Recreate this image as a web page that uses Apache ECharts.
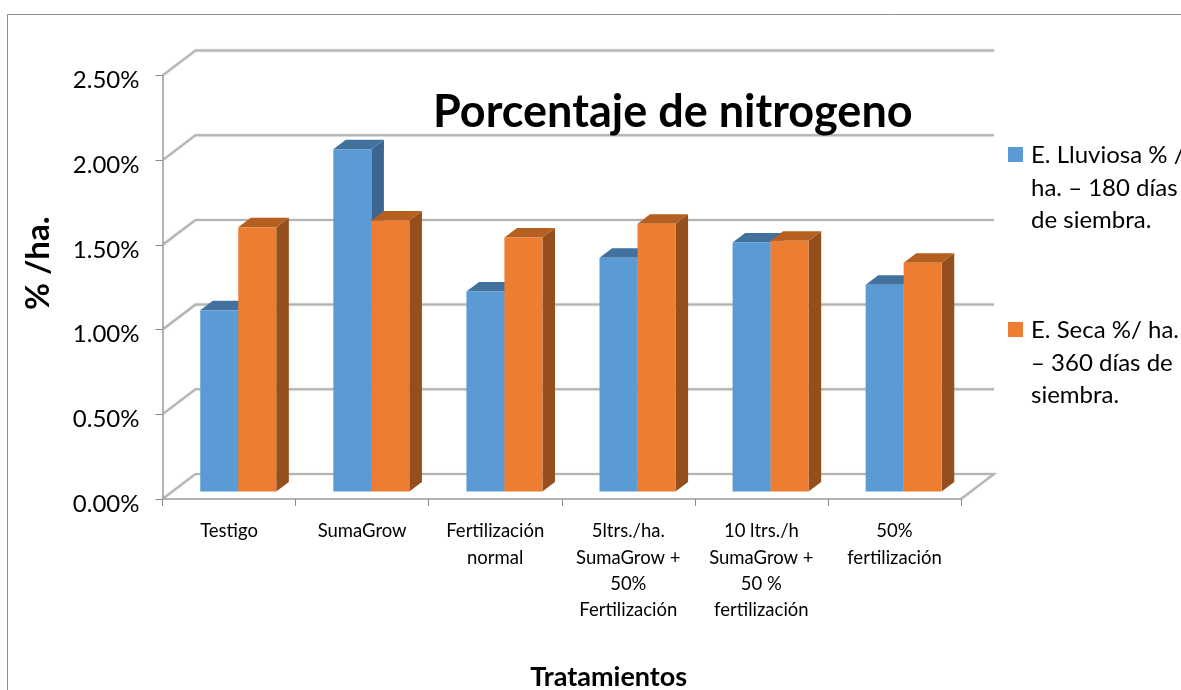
<!DOCTYPE html>
<html><head><meta charset="utf-8">
<style>html,body{margin:0;padding:0;background:#fff;overflow:hidden}#c{width:1181px;height:690px}</style>
<script src="https://cdn.jsdelivr.net/npm/echarts@6/dist/echarts.min.js"></script>
</head><body><div id="c"></div>
<script>
const categories = ['Testigo','SumaGrow','Fertilización\nnormal','5ltrs./ha.\nSumaGrow +\n50%\nFertilización','10 ltrs./h\nSumaGrow +\n50 %\nfertilización','50%\nfertilización'];
const lluviosa = [0.0107,0.0202,0.0118,0.0138,0.0147,0.0122];
const seca = [0.0156,0.0160,0.0150,0.0158,0.0148,0.0135];
const yTicks = [0,0.005,0.01,0.015,0.02,0.025];
const lluviosaName = 'E. Lluviosa % /\nha. – 180 días\nde siembra.';
const secaName = 'E. Seca %/ ha.\n– 360 días de\nsiembra.';

const FONT = 'Lato, "Open Sans", sans-serif';
// oblique projection constants
const WALL_DX = 33, WALL_DY = 25;
const BAR_W = 38, BAR_DX = 9.2, BAR_DY = 7.5, DEPTH_DX = 12.6, DEPTH_DY = 9.5;
const LEG_ICON = 'path://M0 0L0 0Z M0 8H15V23H0Z M0 98L0 98Z';

function wallItem(params, api){
  const cs = params.coordSys;
  const v = api.value(1);
  const y = api.coord([0, v])[1];
  const x0 = cs.x, x1 = cs.x + cs.width;
  const st = {stroke:'#b4b4b4', lineWidth:2, fill:null, shadowBlur:1.5, shadowColor:'rgba(0,0,0,0.25)'};
  const pts = [[x0,y],[x0+WALL_DX,y-WALL_DY],[x1+WALL_DX,y-WALL_DY]];
  if(v === 0) pts.push([x1,y]);
  return {type:'polyline', shape:{points:pts}, style:st, silent:true};
}
function barItem(side, top, sideC){
  return function(params, api){
    const idx = api.value(0), val = api.value(1);
    const p = api.coord([idx, val]), b = api.coord([idx, 0]);
    const cx = p[0] + BAR_DX;
    const l = side === 0 ? cx - BAR_W : cx, r = l + BAR_W;
    const ty = p[1] - BAR_DY, by = b[1] - BAR_DY;
    const color = api.visual('color');
    return {type:'group', children:[
      {type:'polygon', shape:{points:[[r,ty],[r+DEPTH_DX,ty-DEPTH_DY],[r+DEPTH_DX,by-DEPTH_DY],[r,by]]}, style:{fill:sideC}},
      {type:'polygon', shape:{points:[[l,ty],[l+DEPTH_DX,ty-DEPTH_DY],[r+DEPTH_DX,ty-DEPTH_DY],[r,ty]]}, style:{fill:top}},
      {type:'rect', shape:{x:l,y:ty,width:BAR_W,height:by-ty}, style:{fill:color}}
    ]};
  };
}
const chart = echarts.init(document.getElementById('c'), null, {renderer:'canvas'});
chart.setOption({
  animation:false,
  backgroundColor:'#fff',
  title:{text:'Porcentaje de nitrogeno', left:428, top:85,
    textStyle:{fontFamily:FONT, fontSize:45, fontWeight:'bold', color:'#000'}},
  legend:{
    data:[{name:lluviosaName, icon:LEG_ICON},{name:secaName, icon:LEG_ICON}],
    orient:'vertical', left:1008, top:139, itemWidth:15, itemHeight:98, itemGap:77, padding:0,
    selectedMode:false,
    textStyle:{fontFamily:FONT, fontSize:24, color:'#000', lineHeight:32.5, padding:[0,0,0,3]}
  },
  grid:{left:162.5, right:220, top:75.5, bottom:191, containLabel:false, outerBoundsMode:'none'},
  graphic:[{type:'rect', silent:true, z:-1, shape:{x:7.5,y:14.5,width:1300,height:800}, style:{fill:null, stroke:'#8c8c8c', lineWidth:1}}],
  xAxis:{type:'category', data:categories, boundaryGap:true,
    axisLine:{lineStyle:{color:'#b4b4b4', width:2}},
    axisTick:{show:true, alignWithLabel:false, length:7, lineStyle:{color:'#8c8c8c', width:1}},
    axisLabel:{interval:0, fontFamily:FONT, fontSize:18.5, color:'#000', lineHeight:26.4, margin:19},
    name:'Tratamientos', nameLocation:'middle', nameGap:165,
    nameTextStyle:{fontFamily:FONT, fontSize:27, fontWeight:'bold', color:'#000', padding:[0,0,0,94]},
    splitLine:{show:false}},
  yAxis:{type:'value', min:0, max:0.025, interval:0.005,
    axisLine:{show:true, lineStyle:{color:'#b4b4b4', width:2}},
    axisTick:{show:true, length:7, lineStyle:{color:'#8c8c8c', width:1}},
    axisLabel:{formatter:v=>(v*100).toFixed(2)+'%', fontFamily:FONT, fontSize:24, color:'#000', margin:23, verticalAlign:'top', lineHeight:10},
    name:'% /ha.', nameLocation:'middle', nameGap:108, nameRotate:90,
    nameTextStyle:{fontFamily:FONT, fontSize:33, fontWeight:'bold', color:'#000', padding:[0,0,0,48]},
    splitLine:{show:false}},
  series:[
    {type:'custom', name:'walls', z:1, clip:false, coordinateSystem:'cartesian2d', silent:true,
      data:yTicks.map(v=>[0,v]), renderItem:wallItem, encode:{x:0,y:1}},
    {type:'custom', name:lluviosaName, z:2, clip:false, itemStyle:{color:'#5B9BD5'},
      data:lluviosa.map((v,i)=>[i,v]), renderItem:barItem(0,'#41719C','#3A6690'), encode:{x:0,y:1}},
    {type:'custom', name:secaName, z:3, clip:false, itemStyle:{color:'#ED7D31'},
      data:seca.map((v,i)=>[i,v]), renderItem:barItem(1,'#B55F20','#954F1C'), encode:{x:0,y:1}}
  ]
});
</script></body></html>
